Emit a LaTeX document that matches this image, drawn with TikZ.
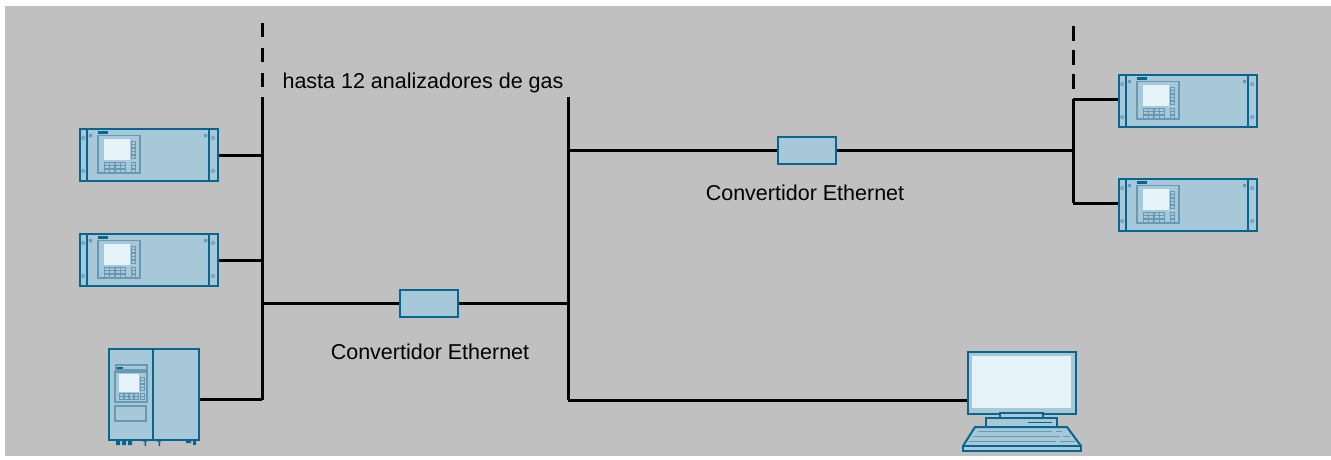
\documentclass[tikz,border=0pt]{standalone}
\usepackage{fontspec}
\setmainfont{Liberation Sans}
\definecolor{bggray}{RGB}{192,192,192}
\definecolor{devfill}{RGB}{167,200,216}
\definecolor{devline}{RGB}{8,102,142}
\definecolor{panelline}{RGB}{104,152,180}
\definecolor{screen}{RGB}{230,244,250}
\begin{document}
\begin{tikzpicture}[x=1pt,y=-1pt,
  bus/.style={line width=3pt,black},
  dev/.style={draw=devline,fill=devfill,line width=2pt},
  devbox/.style={dev,rectangle,inner sep=0pt,anchor=north west},
  conv/.style={dev,rectangle,inner sep=0pt,minimum width=58pt,minimum height=27pt,line width=2.5pt},
  lbl/.style={font=\fontsize{21.5}{24}\selectfont,inner sep=0pt},
  key/.style={draw=panelline,line width=0.8pt},
  analyzer/.pic={
    \node[devbox,minimum width=138pt,minimum height=52pt] (-box) at (0,0) {};
    \draw[devline,line width=1.5pt] (8,0) -- (8,52) (130,0) -- (130,52);
    \foreach \cx in {4,134}{\foreach \cy in {10,43}{
      \draw[panelline,line width=0.8pt] (\cx,\cy) circle (1.7);}}
    \fill[panelline] (10,6) rectangle (13,9) (125,6) rectangle (128,9);
    \fill[devline] (19,3) rectangle (29,6);
    \draw[panelline,line width=1.2pt] (19,7.5) rectangle (61,45);
    \fill[screen] (25,11) rectangle (51,32);
    \foreach \yy in {13,16.5,20,23.5,27}{\draw[key] (52.5,\yy) rectangle (56,\yy+3);}
    \foreach \yy in {34,37.5,41}{\draw[key] (52.5,\yy) rectangle (56,\yy+3);}
    \foreach \xx in {25,30.5,36,41.5}{\foreach \yy in {34,37.5,41}{
      \draw[key] (\xx,\yy) rectangle (\xx+5,\yy+3);}}
  }]
\useasboundingbox (0,0) rectangle (1331,459);
\fill[bggray] (5,6) rectangle (1331,456);

% left bus
\coordinate (lbTop) at (262,97);
\coordinate (lbBot) at (262,400);
\draw[bus,dash pattern=on 14pt off 11pt] (262,23) -- (262,89);
\draw[bus] (lbTop) -- (lbBot);

% right-hand trunk
\coordinate (mbTop) at (568,97);
\coordinate (mbBot) at (568,400);
\draw[bus] (mbTop) -- (mbBot);

% far right bus
\coordinate (rbTop) at (1073,99);
\coordinate (rbBot) at (1073,203);
\draw[bus,dash pattern=on 15pt off 9pt] (1073,26) -- (1073,90);
\draw[bus] (rbTop) -- (rbBot);

% analyzers
\pic (a1) at (79,128) {analyzer};
\pic (a2) at (79,233) {analyzer};
\pic (a3) at (1118,74) {analyzer};
\pic (a4) at (1118,178) {analyzer};

% cabinet
\node[devbox,minimum width=90pt,minimum height=91pt] (cab) at (108,348) {};
\draw[devline,line width=2.5pt] (153,348) -- (153,439);
\draw[panelline,line width=1.2pt] (116,365) rectangle (147,370);
\fill[devline] (116.5,366.5) rectangle (123,368.5);
\draw[panelline,line width=1.2pt] (115,372) rectangle (147,402);
\fill[screen] (119,374) rectangle (139,392);
\foreach \yy in {377,380.5,384,387.5}{\draw[key] (140,\yy) rectangle (144,\yy+3);}
\foreach \yy in {393,396.5}{\draw[key] (140,\yy) rectangle (144,\yy+3);}
\foreach \xx in {119,124,129,134}{\foreach \yy in {393,396.5}{
  \draw[key] (\xx,\yy) rectangle (\xx+4.5,\yy+3);}}
\draw[panelline,line width=1.2pt] (115,406) rectangle (146,421);
\fill[devline] (116,440) rectangle (120,445) (122,440) rectangle (126,445) (128,440) rectangle (132,445);
\fill[devline] (143,440) rectangle (147,441.5) (144.5,441) rectangle (146,446);
\fill[devline] (157,440) rectangle (161,441.5) (158.5,441) rectangle (160,446);
\fill[devline] (186,440) rectangle (191,443) (193,440) rectangle (196,445);

% PC
\node[devbox,minimum width=108pt,minimum height=62pt] (pc) at (967,351) {};
\fill[screen] (972,356) rectangle (1071,408);
\draw[dev] (1000,413) rectangle (1043,418);
\draw[dev] (986,418) rectangle (1057,427);
\draw[devline,line width=1pt] (1028,422) -- (1052,422);
\draw[dev,line join=round] (975,427) -- (1067,427) -- (1081,446) -- (963,446) -- cycle;
\draw[dev] (963,446) rectangle (1081,451);
\draw[panelline,line width=1pt]
  (978,431) -- (1052,431) (1056,431) -- (1062,431)
  (973,436) -- (1060,436) (1063,436) -- (1070,436)
  (969,441) -- (1056,441) (1060,441) -- (1075,441);

% converters
\node[conv] (c1) at (429,303.5) {};
\node[conv] (c2) at (807,150.5) {};

% connections
\draw[bus] (a1-box.east) -- (a1-box.east -| lbTop);
\draw[bus] (a2-box.east) -- (a2-box.east -| lbTop);
\coordinate (cabJ) at (262,399);
\draw[bus] (cab.east |- cabJ) -- (cabJ);
\draw[bus] (lbBot |- c1.west) -- (c1.west);
\draw[bus] (c1.east) -- (c1.east -| mbTop);
\draw[bus] (mbTop |- c2.west) -- (c2.west);
\draw[bus] (c2.east) -- (c2.east -| rbTop);
\draw[bus] (rbTop) -- (rbTop -| a3-box.west);
\draw[bus] (rbBot) -- (rbBot -| a4-box.west);
\draw[bus] (mbBot) -- (mbBot -| pc.west);

% labels
\node[lbl] (t1) at (423,83) {hasta 12 analizadores de gas};
\node[lbl] (t2) at (430,352) {Convertidor Ethernet};
\node[lbl] (t3) at (805,193) {Convertidor Ethernet};
\end{tikzpicture}
\end{document}
